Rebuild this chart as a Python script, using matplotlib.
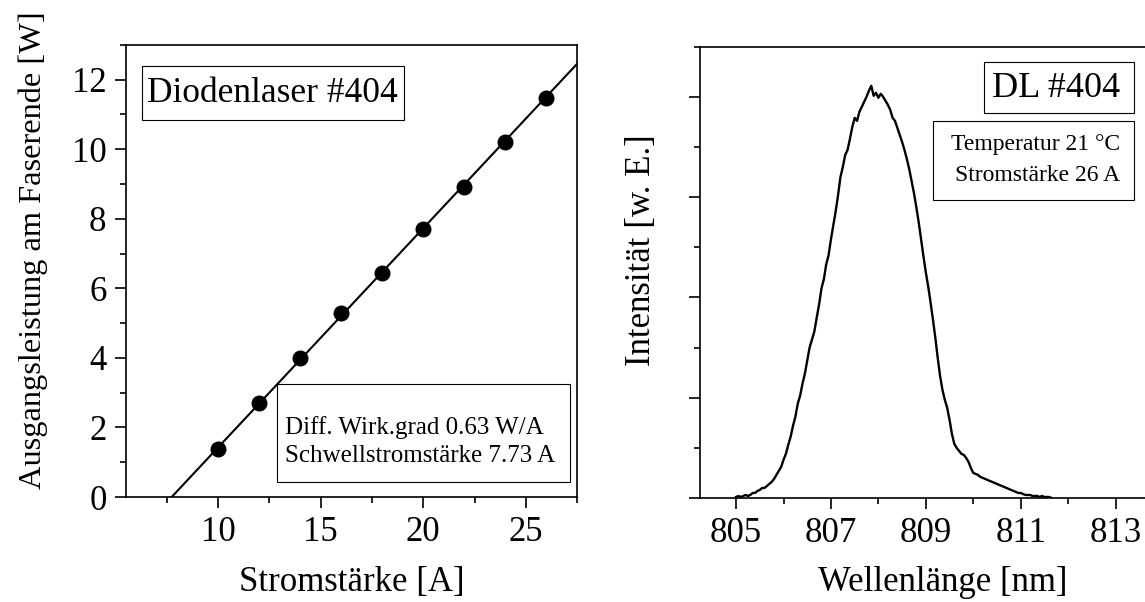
import numpy as np
import matplotlib
matplotlib.use("Agg")
import matplotlib.pyplot as plt
from matplotlib.patches import Rectangle
from matplotlib.ticker import MultipleLocator, NullFormatter

plt.rcParams["font.family"] = ["Liberation Serif", "DejaVu Serif"]

# --- Kennlinie Diodenlaser #404
strom = [10, 12, 14, 16, 18, 20, 22, 24, 26]
leistung = [1.38, 2.70, 4.00, 5.30, 6.43, 7.70, 8.92, 10.20, 11.46]
wirkgrad = 0.63      # W/A
schwelle = 7.73      # A

# --- Spektrum bei 26 A, 21 °C (Schritt 0.05 nm ab 805.00 nm)
lambda_start = 805.00
lambda_schritt = 0.05
intensitaet = [
    0.01, 0.02, 0.01, 0.02, 0.03, 0.02, 0.03, 0.05, 0.05, 0.07,
    0.08, 0.10, 0.10, 0.12, 0.14, 0.16, 0.19, 0.23, 0.27, 0.31,
    0.38, 0.44, 0.53, 0.61, 0.72, 0.81, 0.94, 1.02, 1.14, 1.24,
    1.37, 1.50, 1.58, 1.66, 1.80, 1.93, 2.09, 2.18, 2.33, 2.42,
    2.58, 2.72, 2.86, 3.02, 3.20, 3.30, 3.42, 3.47, 3.58, 3.70,
    3.79, 3.76, 3.85, 3.90, 3.95, 4.00, 4.06, 4.11, 4.01, 4.04,
    3.99, 4.03, 4.00, 3.96, 3.92, 3.87, 3.79, 3.76, 3.69, 3.62,
    3.55, 3.47, 3.38, 3.28, 3.16, 3.04, 2.90, 2.75, 2.58, 2.41,
    2.25, 2.11, 1.95, 1.78, 1.60, 1.40, 1.22, 1.08, 0.98, 0.90,
    0.78, 0.64, 0.54, 0.50, 0.47, 0.44, 0.43, 0.40, 0.36, 0.30,
    0.25, 0.24, 0.23, 0.21, 0.20, 0.19, 0.18, 0.17, 0.16, 0.15,
    0.14, 0.13, 0.12, 0.11, 0.10, 0.09, 0.08, 0.07, 0.06, 0.05,
    0.05, 0.04, 0.03, 0.03, 0.03, 0.02, 0.02, 0.02, 0.01, 0.02,
    0.01, 0.01, 0.01, 0.00,
]
wellenlaenge = lambda_start + lambda_schritt * np.arange(len(intensitaet))

fig = plt.figure(figsize=(11.45, 6.02), dpi=100)
ax1 = fig.add_axes([0.110, 0.1744, 0.394, 0.751])
ax2 = fig.add_axes([0.6114, 0.1728, 0.396, 0.7497])


def style(ax):
    for s in ax.spines.values():
        s.set_linewidth(1.2)
    ax.tick_params(which="both", direction="out", width=1.2, labelsize=25,
                   top=False, right=False)
    ax.tick_params(which="major", length=8, pad=6)
    ax.tick_params(which="minor", length=4.5)


# linkes Diagramm
style(ax1)
ax1.plot(strom, leistung, "o", color="black", markersize=10.5)
xfit = np.array([schwelle, 30.0])
ax1.plot(xfit, wirkgrad * (xfit - schwelle), color="black", lw=1.5)
ax1.set_xlim(5.5, 27.5)
ax1.set_ylim(0, 13)
ax1.xaxis.set_major_locator(MultipleLocator(5))
ax1.xaxis.set_minor_locator(MultipleLocator(2.5))
ax1.yaxis.set_major_locator(MultipleLocator(2))
ax1.yaxis.set_minor_locator(MultipleLocator(1))
ax1.set_xlabel("Stromstärke [A]", fontsize=25, labelpad=12)
ax1.set_ylabel("Ausgangsleistung am Faserende [W]", fontsize=23.3)
ax1.yaxis.set_label_coords(-0.172, 0.545)

ax1.add_patch(Rectangle((0.035, 0.834), 0.581, 0.120, transform=ax1.transAxes,
                        fill=False, lw=0.8, ec="black"))
ax1.text(0.325, 0.892, "Diodenlaser #404", transform=ax1.transAxes,
         fontsize=25.5, ha="center", va="center")
ax1.add_patch(Rectangle((0.335, 0.034), 0.650, 0.215, transform=ax1.transAxes,
                        fill=False, lw=0.8, ec="black"))
ax1.text(0.352, 0.123,
         f"Diff. Wirk.grad {wirkgrad:.2f} W/A\nSchwellstromstärke {schwelle:.2f} A",
         transform=ax1.transAxes, fontsize=18, ha="left", va="center",
         linespacing=1.32)

# rechtes Diagramm
style(ax2)
ax2.plot(wellenlaenge, intensitaet, color="black", lw=1.7)
ax2.set_xlim(804.24, 813.8)
ax2.set_ylim(0, 4.5)
ax2.xaxis.set_major_locator(MultipleLocator(2, offset=1))
ax2.xaxis.set_minor_locator(MultipleLocator(1))
ax2.yaxis.set_major_locator(MultipleLocator(1))
ax2.yaxis.set_minor_locator(MultipleLocator(0.5))
ax2.yaxis.set_major_formatter(NullFormatter())
ax2.set_xlabel("Wellenlänge [nm]", fontsize=25)
ax2.xaxis.set_label_coords(0.535, -0.15)
ax2.set_ylabel("Intensität [w. E.]", fontsize=25)
ax2.yaxis.set_label_coords(-0.092, 0.55)

ax2.add_patch(Rectangle((0.627, 0.854), 0.331, 0.112, transform=ax2.transAxes,
                        fill=False, lw=0.8, ec="black"))
ax2.text(0.927, 0.908, "DL #404", transform=ax2.transAxes,
         fontsize=26, ha="right", va="center")
ax2.add_patch(Rectangle((0.513, 0.661), 0.445, 0.174, transform=ax2.transAxes,
                        fill=False, lw=0.8, ec="black"))
ax2.text(0.927, 0.748, "Temperatur 21 °C\nStromstärke 26 A",
         transform=ax2.transAxes, fontsize=17, ha="right", va="center",
         linespacing=1.62)

fig.savefig("out.png", dpi=100)
